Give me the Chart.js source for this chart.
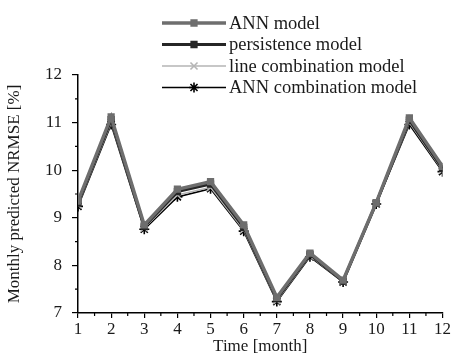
<!DOCTYPE html>
<html>
<head>
<meta charset="utf-8">
<script src="https://cdn.jsdelivr.net/npm/chart.js@4/dist/chart.umd.min.js"></script>
<style>
  html, body { margin: 0; padding: 0; background: #fff; }
  canvas { display: block; }
</style>
</head>
<body>
<canvas id="c" width="452" height="361"></canvas>
<script>
// months 1..12
const months = [1, 2, 3, 4, 5, 6, 7, 8, 9, 10, 11, 12];
const annModel = [9.35, 11.12, 8.85, 9.6, 9.76, 8.85, 7.33, 8.26, 7.69, 9.32, 11.1, 10.08];
const persistenceModel = [9.31, 11.06, 8.82, 9.55, 9.71, 8.8, 7.3, 8.23, 7.67, 9.31, 11.05, 10.04];
const lineCombination = [9.27, 11.0, 8.79, 9.48, 9.64, 8.75, 7.26, 8.2, 7.66, 9.3, 11.0, 10.0];
const annCombination = [9.24, 10.96, 8.76, 9.44, 9.61, 8.72, 7.24, 8.18, 7.65, 9.29, 10.96, 9.97];
const seriesNames = ['ANN model', 'persistence model', 'line combination model', 'ANN combination model'];
const yTicks = [7, 8, 9, 10, 11, 12];

Chart.defaults.font.family = '"Liberation Serif", "Times New Roman", serif';
Chart.defaults.color = '#1a1a1a';

const toPts = arr => arr.map((v, i) => ({ x: months[i], y: v }));

const styles = [
  { color: '#6e6e6e', width: 3.4, point: 'rect', radius: 4 },
  { color: '#262626', width: 3, point: 'rect', radius: 4 },
  { color: '#b5b5b5', width: 1.6, point: 'crossRot', radius: 5 },
  { color: '#000000', width: 1.6, point: 'star', radius: 5 }
];
const seriesData = [annModel, persistenceModel, lineCombination, annCombination];

const datasets = seriesData.map((d, i) => ({
  label: seriesNames[i],
  data: toPts(d),
  borderColor: styles[i].color,
  backgroundColor: styles[i].color,
  borderWidth: styles[i].width,
  pointStyle: styles[i].point,
  pointRadius: styles[i].radius,
  pointBorderColor: styles[i].color,
  pointBackgroundColor: styles[i].color,
  pointBorderWidth: 1.6,
  tension: 0
}));

// minor ticks + custom legend
const extras = {
  id: 'extras',
  afterDraw(chart) {
    const ctx = chart.ctx;
    const xs = chart.scales.x, ys = chart.scales.y;
    ctx.save();
    ctx.strokeStyle = '#000';
    ctx.lineWidth = 1.2;
    ctx.beginPath();
    for (let m = 1.5; m < 12; m += 1) {
      const px = xs.getPixelForValue(m);
      ctx.moveTo(px, ys.bottom); ctx.lineTo(px, ys.bottom + 3);
    }
    for (let v = 7.5; v < 12; v += 1) {
      const py = ys.getPixelForValue(v);
      ctx.moveTo(xs.left, py); ctx.lineTo(xs.left - 3, py);
    }
    ctx.stroke();

    // legend
    const lx0 = 162, lx1 = 226, ly0 = 23, dy = 21.5;
    ctx.font = '18.5px "Liberation Serif", serif';
    ctx.textBaseline = 'middle';
    chart.data.datasets.forEach((ds, i) => {
      const y = ly0 + i * dy;
      ctx.strokeStyle = ds.borderColor;
      ctx.lineWidth = ds.borderWidth;
      ctx.beginPath(); ctx.moveTo(lx0, y); ctx.lineTo(lx1, y); ctx.stroke();
      ctx.fillStyle = ds.pointBackgroundColor;
      ctx.strokeStyle = ds.pointBorderColor;
      ctx.lineWidth = 1.6;
      Chart.helpers.drawPoint(ctx, { pointStyle: ds.pointStyle, radius: ds.pointRadius, rotation: 0, borderWidth: 1.6 }, (lx0 + lx1) / 2, y);
      ctx.fillStyle = '#1a1a1a';
      ctx.fillText(ds.label, lx1 + 3, y + 1);
    });
    ctx.restore();
  }
};

new Chart(document.getElementById('c'), {
  type: 'line',
  data: { datasets: datasets },
  options: {
    responsive: false,
    animation: false,
    layout: { padding: { top: 75, right: 5, left: 0, bottom: 0 }, autoPadding: false },
    plugins: { legend: { display: false }, tooltip: { enabled: false } },
    scales: {
      x: {
        type: 'linear',
        min: 1, max: 12,
        afterFit: s => { s.height = 48; },
        afterBuildTicks: s => { s.ticks = months.map(v => ({ value: v })); },
        border: { color: '#000', width: 1.5 },
        grid: { drawOnChartArea: false, color: '#000', tickLength: 5, lineWidth: 1.2 },
        ticks: { font: { size: 17 }, color: '#1a1a1a', padding: 1, maxRotation: 0 },
        title: { display: true, text: 'Time [month]', font: { size: 17 }, color: '#1a1a1a', padding: { top: 2 } }
      },
      y: {
        min: 7, max: 12,
        afterFit: s => { s.width = 78; },
        afterBuildTicks: s => { s.ticks = yTicks.map(v => ({ value: v })); },
        border: { color: '#000', width: 1.5 },
        grid: { drawOnChartArea: false, color: '#000', tickLength: 6, lineWidth: 1.2 },
        ticks: { font: { size: 17 }, color: '#1a1a1a', padding: 10 },
        title: { display: true, text: 'Monthly predicted NRMSE [%]', font: { size: 17 }, color: '#1a1a1a', padding: { bottom: 0 } }
      }
    }
  },
  plugins: [extras]
});
</script>
</body>
</html>
